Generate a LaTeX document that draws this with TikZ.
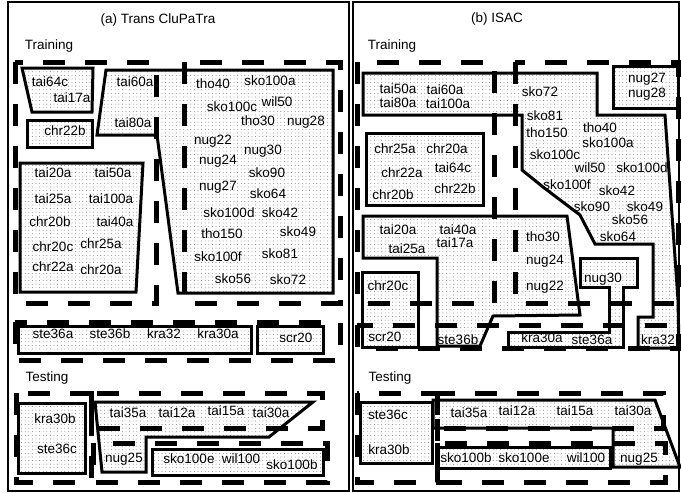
\documentclass[tikz,border=0pt]{standalone}
\usepackage{fontspec}
\setmainfont{Liberation Sans}
\usetikzlibrary{patterns}
\pgfdeclarepatternformonly{sparsedots}{\pgfqpoint{-1pt}{-1pt}}{\pgfqpoint{1pt}{1pt}}{\pgfqpoint{3.6pt}{3.6pt}}{%
  \pgfpathcircle{\pgfqpoint{0pt}{0pt}}{.45pt}\pgfusepath{fill}}
\begin{document}
\begin{tikzpicture}[x=1pt,y=-1pt,
  lbl/.style={font=\fontsize{13.5}{15}\selectfont, inner sep=0pt, text height=9.7pt, text depth=0pt},
  sol/.style={draw, line width=3pt, pattern=sparsedots, pattern color=black!60, line join=miter},
  dsh/.style={draw, line width=5pt, dash pattern=on 22pt off 20pt},
  frame/.style={draw, line width=1.2pt}]
\useasboundingbox (0,0) rectangle (681,493);
% panel frames
\draw[frame] (8,2) rectangle (349,491);
\draw[frame] (353,2) rectangle (679,491);

% ---------- (a) solid classes ----------
\path[sol] (22,68) -- (93,68) -- (92,112) -- (32,112) -- cycle;
\path[sol] (27,120) rectangle (92,147);
\path[sol] (20,163) -- (143,163) -- (136,292) -- (20,292) -- cycle;
\path[sol] (106,70) -- (333,70) -- (333,293) -- (178,293) -- (157,135) -- (97,135) -- cycle;
\path[sol] (18,326) rectangle (251,353);
\path[sol] (257,326) rectangle (323,353);
\path[sol] (18,403) rectangle (85,473);
\path[sol] (95,402) -- (313,402) -- (269,437) -- (146,437) -- (146,472) -- (102,472) -- cycle;
\path[sol] (152,449) rectangle (323,475);

% ---------- (b) solid classes ----------
\path[sol] (363,73) -- (597,73) -- (597,115) -- (665,115) -- (678,300) -- (679,348) -- (638,348) -- (638,317) -- (653,317) -- (653,244) -- (595,244) -- (580,215) -- (543,187) -- (522,170) -- (522,115) -- (363,115) -- cycle;
\path[sol] (613,66) rectangle (678,108);
\path[sol] (366,133) rectangle (483,205);
\path[sol] (363,216) -- (567,216) -- (580,315) -- (493,316) -- (480,346) -- (437,346) -- (437,258) -- (363,258) -- cycle;
\path[sol] (362,272) rectangle (418,347);
\path[sol] (580,258) -- (637,258) -- (637,287) -- (623,287) -- (623,347) -- (508,347) -- (508,332) -- (609,332) -- (609,287) -- (580,287) -- cycle;
\path[sol] (360,402) rectangle (432,463);
\path[sol] (433,400) -- (655,400) -- (680,467) -- (613,467) -- (613,428) -- (433,428) -- cycle;
\path[sol] (438,447) rectangle (610,468);

% ---------- dashed clusters ----------
\draw[dsh] (15,62) rectangle (156,303);
\draw[dsh] (184,62) rectangle (340,303);
\draw[dsh] (15,322) rectangle (340,360);
\draw[dsh] (16,393) rectangle (91,482);
\draw[dsh] (91,393) rectangle (322,428);
\draw[dsh] (93,443) rectangle (327,482);

\draw[dsh] (357,62) rectangle (494,303);
\draw[dsh] (515,62) rectangle (678,303);
\draw[dsh] (357,325) rectangle (678,348);
\draw[dsh] (357,393) rectangle (437,482);
\draw[dsh] (437,393) rectangle (663,428);
\draw[dsh] (437,443) rectangle (665,482);

% ---------- titles ----------
\node[lbl] (ta) at (158,19) {(a) Trans CluPaTra};
\node[lbl] (trA) at (49,45) {Training};
\node[lbl] (teA) at (47,377) {Testing};
\node[lbl] (tb) at (497,18) {(b) ISAC};
\node[lbl] (trB) at (392,45) {Training};
\node[lbl] (teB) at (390,377) {Testing};

% ---------- (a) labels ----------
\node[lbl] (a1) at (50,82) {tai64c};
\node[lbl] (a2) at (72,98) {tai17a};
\node[lbl] (a3) at (65,131) {chr22b};
\node[lbl] (a4) at (135,82) {tai60a};
\node[lbl] (a5) at (133,123) {tai80a};
\node[lbl] (a6) at (53,173) {tai20a};
\node[lbl] (a7) at (113,173) {tai50a};
\node[lbl] (a8) at (53,199) {tai25a};
\node[lbl] (a9) at (111,199) {tai100a};
\node[lbl] (a10) at (50,222) {chr20b};
\node[lbl] (a11) at (115,222) {tai40a};
\node[lbl] (a12) at (53,247) {chr20c};
\node[lbl] (a13) at (101,244) {chr25a};
\node[lbl] (a14) at (53,267) {chr22a};
\node[lbl] (a15) at (101,270) {chr20a};
\node[lbl] (a16) at (213,84) {tho40};
\node[lbl] (a17) at (270,81) {sko100a};
\node[lbl] (a18) at (232,107) {sko100c};
\node[lbl] (a19) at (277,102) {wil50};
\node[lbl] (a20) at (258,121) {tho30};
\node[lbl] (a21) at (306,121) {nug28};
\node[lbl] (a22) at (213,140) {nug22};
\node[lbl] (a23) at (263,150) {nug30};
\node[lbl] (a24) at (218,160) {nug24};
\node[lbl] (a25) at (267,173) {sko90};
\node[lbl] (a26) at (218,186) {nug27};
\node[lbl] (a27) at (268,194) {sko64};
\node[lbl] (a28) at (229,213) {sko100d};
\node[lbl] (a29) at (280,213) {sko42};
\node[lbl] (a30) at (222,234) {tho150};
\node[lbl] (a31) at (298,232) {sko49};
\node[lbl] (a32) at (218,257) {sko100f};
\node[lbl] (a33) at (280,254) {sko81};
\node[lbl] (a34) at (233,279) {sko56};
\node[lbl] (a35) at (288,280) {sko72};
\node[lbl] (a36) at (53,334) {ste36a};
\node[lbl] (a37) at (110,334) {ste36b};
\node[lbl] (a38) at (164,334) {kra32};
\node[lbl] (a39) at (218,334) {kra30a};
\node[lbl] (a40) at (296,338) {scr20};
\node[lbl] (a41) at (55,419) {kra30b};
\node[lbl] (a42) at (57,449) {ste36c};
\node[lbl] (a43) at (128,413) {tai35a};
\node[lbl] (a44) at (177,413) {tai12a};
\node[lbl] (a45) at (226,411) {tai15a};
\node[lbl] (a46) at (271,413) {tai30a};
\node[lbl] (a47) at (124,458) {nug25};
\node[lbl] (a48) at (189,459) {sko100e};
\node[lbl] (a49) at (241,459) {wil100};
\node[lbl] (a50) at (292,465) {sko100b};

% ---------- (b) labels ----------
\node[lbl] (b1) at (398,89) {tai50a};
\node[lbl] (b2) at (445,90) {tai60a};
\node[lbl] (b3) at (398,103) {tai80a};
\node[lbl] (b4) at (448,104) {tai100a};
\node[lbl] (b5) at (540,92) {sko72};
\node[lbl] (b6) at (647,78) {nug27};
\node[lbl] (b7) at (647,93) {nug28};
\node[lbl] (b8) at (545,116) {sko81};
\node[lbl] (b9) at (547,133) {tho150};
\node[lbl] (b10) at (600,128) {tho40};
\node[lbl] (b11) at (608,143) {sko100a};
\node[lbl] (b12) at (555,155) {sko100c};
\node[lbl] (b13) at (590,168) {wil50};
\node[lbl] (b14) at (642,168) {sko100d};
\node[lbl] (b15) at (567,185) {sko100f};
\node[lbl] (b16) at (617,191) {sko42};
\node[lbl] (b17) at (592,207) {sko90};
\node[lbl] (b18) at (645,207) {sko49};
\node[lbl] (b19) at (630,220) {sko56};
\node[lbl] (b20) at (618,237) {sko64};
\node[lbl] (b21) at (395,149) {chr25a};
\node[lbl] (b22) at (447,149) {chr20a};
\node[lbl] (b23) at (402,173) {chr22a};
\node[lbl] (b24) at (453,168) {tai64c};
\node[lbl] (b25) at (393,195) {chr20b};
\node[lbl] (b26) at (455,189) {chr22b};
\node[lbl] (b27) at (398,230) {tai20a};
\node[lbl] (b28) at (458,230) {tai40a};
\node[lbl] (b29) at (407,249) {tai25a};
\node[lbl] (b30) at (455,243) {tai17a};
\node[lbl] (b31) at (543,237) {tho30};
\node[lbl] (b32) at (545,260) {nug24};
\node[lbl] (b33) at (545,286) {nug22};
\node[lbl] (b34) at (458,340) {ste36b};
\node[lbl] (b35) at (388,286) {chr20c};
\node[lbl] (b36) at (385,337) {scr20};
\node[lbl] (b37) at (603,278) {nug30};
\node[lbl] (b38) at (542,338) {kra30a};
\node[lbl] (b39) at (592,340) {ste36a};
\node[lbl] (b40) at (658,340) {kra32};
\node[lbl] (b41) at (388,415) {ste36c};
\node[lbl] (b42) at (389,450) {kra30b};
\node[lbl] (b43) at (469,413) {tai35a};
\node[lbl] (b44) at (517,411) {tai12a};
\node[lbl] (b45) at (575,411) {tai15a};
\node[lbl] (b46) at (633,411) {tai30a};
\node[lbl] (b47) at (639,458) {nug25};
\node[lbl] (b48) at (466,458) {sko100b};
\node[lbl] (b49) at (524,458) {sko100e};
\node[lbl] (b50) at (586,458) {wil100};
\end{tikzpicture}
\end{document}
